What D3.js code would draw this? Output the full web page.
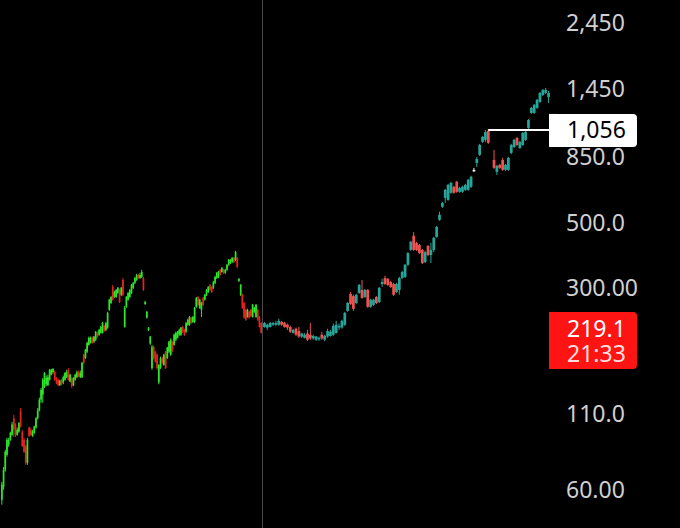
<!DOCTYPE html>
<html>
<head>
<meta charset="utf-8">
<script src="https://cdn.jsdelivr.net/npm/d3@7"></script>
<style>
  body { margin: 0; background: #000; }
  svg { display: block; }
</style>
</head>
<body>
<svg id="chart"></svg>
<script>
// ***********************DATA**********************
// candles are [open, high, low, close]

let earlyCandles = [
  [55.5,64,53.4,62.6],[61.6,72,60.1,70.5],[70.5,82.6,69.4,81.3],[79.4,90.8,78.2,89.4],[85.9,90.8,84.5,89.4],
  [89.4,95.3,88.7,94.5],[93,103,92.3,101],[106,109,91.5,96.8],[101,102,91.5,93],[93,98.5,92.3,96.8],
  [95.3,103,94.5,102],[112,115,98.5,99.3],[95.3,96.8,84.5,85.2],[89.4,90.8,80.6,81.3],[84.5,85.9,73.3,74.5],
  [74.5,90.8,73.3,89.4],[98.5,99.3,91.5,92.3],[96.8,98.5,92.3,93],[92.3,96.8,91.5,95.3],[94.5,100,93.8,99.3],
  [98.5,107,97.7,106],[106,115,105,113],[113,125,112,123],[123,135,120,133],[128,146,120,144],
  [136,153,135,152],[139,149,137,146],[138,150,137,147],[144,157,143,156],[150,157,149,156],
  [153,158,151,157],[153,155,143,144],[146,147,139,141],[144,145,137,138],[138,144,137,143],
  [144,145,138,139],[141,149,139,147],[144,153,143,152],[147,156,146,153],[156,158,143,144],
  [142,151,141,150],[146,147,135,137],[138,147,137,146],[144,151,143,150],[147,155,146,153],
  [153,155,147,149],[147,155,146,152],[147,166,146,165],[176,177,163,165],[171,184,170,183],
  [180,195,178,193],[190,203,189,201],[193,203,192,201],[201,203,192,193],[195,204,193,203],
  [198,212,196,211],[209,211,201,203],[206,216,204,214],[209,221,208,219],[209,228,208,226],
  [221,223,211,212],[214,228,212,226],[218,247,216,245],[251,274,249,272],[265,280,263,278],
  [301,306,270,272],[278,292,276,289],[278,296,276,294],[287,301,285,299],[294,296,265,267],
  [283,301,280,299],[318,323,280,283],[219,259,218,255],[257,280,255,278],[272,289,270,287],
  [278,296,276,294],[287,308,285,306],[299,313,296,311],[311,326,308,323],[318,334,316,331],
  [331,334,321,323],[323,337,321,331],[326,345,323,339],[323,326,292,294],[263,270,261,267],
  [236,249,234,247],[214,219,212,218],[192,204,190,203],[158,190,156,187],[187,189,169,171],
  [180,181,165,166],[176,177,156,158],[141,163,139,162],[158,173,157,171],[171,173,163,165],
  [162,177,161,176],[180,181,157,158],[171,187,170,186],[180,196,178,195],[176,200,174,198],
  [195,196,180,183],[190,208,189,206],[198,211,196,209],[201,212,200,211],[206,216,204,214],
  [206,219,204,218],[219,221,209,211],[214,216,204,206],[211,228,209,226],[223,234,221,232],
  [223,239,221,237],[236,237,225,226],[228,239,226,237],[228,257,226,255],[257,278,255,276],
  [278,280,259,261],[255,274,253,272],[251,267,237,265],[276,278,259,261],[272,285,270,283],
  [283,296,280,294],[289,303,287,301],[306,308,292,294],[301,303,287,289],[299,316,296,313],
  [311,329,308,326],[323,339,321,337],[326,342,323,339],[345,347,329,331],[339,353,337,350],
  [345,347,334,337],[337,347,334,345],[345,361,342,359],[359,376,356,373],[364,376,361,373],
  [367,382,364,379],[379,382,364,367],[373,401,370,397],[379,382,350,353],[316,323,313,321],
  [283,308,280,306],[283,285,253,255],[265,267,234,236],[251,253,230,232],[237,253,236,251],
  [247,249,234,236],[251,253,237,239],[237,263,236,261],[247,257,245,255],[237,263,236,261],
  [251,253,230,232],[237,239,218,219],[226,228,208,209]
]

let recentCandles = [
  [219,228,218,226],[218,225,214,223],[219,228,218,226],[223,228,221,226],[223,230,221,226],
  [223,234,221,230],[228,230,221,223],[226,228,218,219],[223,225,214,218],[219,221,209,211],
  [209,216,208,214],[216,218,204,206],[212,219,201,203],[203,209,201,208],[201,209,200,206],
  [208,214,196,198],[206,226,198,200],[200,206,198,204],[198,204,196,203],[200,203,196,201],
  [206,211,198,200],[198,206,196,204],[203,216,201,212],[204,214,203,211],[206,225,204,221],
  [209,230,208,223],[218,225,214,221],[218,232,216,230],[223,247,221,245],[249,267,247,265],
  [285,289,261,263],[280,283,249,253],[265,285,263,283],[287,308,285,306],[294,318,274,276],
  [278,296,276,294],[294,296,255,257],[257,274,255,272],[261,274,259,272],[278,280,263,265],
  [267,301,265,299],[308,321,301,313],[323,329,306,308],[321,323,303,306],[313,316,299,301],
  [308,311,280,283],[289,311,287,308],[294,326,283,323],[323,342,321,339],[326,361,323,359],
  [359,397,356,394],[404,434,401,431],[452,466,401,404],[427,431,401,404],[420,424,391,394],
  [404,407,361,364],[367,401,364,397],[417,420,385,388],[388,427,364,404],[404,448,397,445],
  [448,489,445,485],[513,547,509,534],[569,592,564,587],[611,656,587,651],[601,683,597,677],
  [636,694,631,688],[667,672,631,636],[694,699,636,641],[641,667,636,661],[641,672,636,667],
  [651,683,646,677],[651,710,646,705],[667,728,661,722],[763,775,751,763],[806,846,781,832],
  [859,938,852,930],[953,999,945,991],[968,1048,953,1031],[1040,1056,938,945],null,
  [826,894,769,775],[751,794,733,788],[794,800,769,775],[826,839,757,763],[763,800,757,794],
  [763,846,757,839],[873,938,866,930],[915,976,908,968],[983,991,923,930],[908,960,901,953],
  [930,1031,923,1023],[968,1040,960,1031],[1065,1143,1056,1134],[1199,1258,1190,1248],[1199,1288,1190,1278],
  [1248,1340,1238,1330],[1309,1417,1298,1406],[1383,1451,1372,1440],[1406,1463,1394,1440],[1361,1428,1298,1406]
]

let tickValues = [2450, 1450, 850, 500, 300, 110, 60]
let tickLabels = ["2,450", "1,450", "850.0", "500.0", "300.00", "110.0", "60.00"]

let lineLevel = 1056
let lineLabel = "1,056"
let lineFromCandle = 78 // index in recentCandles where the drawn line starts

let lastPrice = 219.1
let lastPriceLabel = "219.1"
let countdownLabel = "21:33"

// ***********************SETUP**********************

let width = 680
let height = 528
let font = "'Noto Sans', 'Open Sans', sans-serif"

let chart = d3.select("#chart")
  .attr("width", width)
  .attr("height", height)

chart.append("rect")
  .attr("width", width)
  .attr("height", height)
  .attr("fill", "#000")

let y = d3.scaleLog()
  .domain([2450, 60])
  .range([23, 490])

let xEarly = d3.scaleBand()
  .domain(d3.range(earlyCandles.length))
  .range([1, 262])

let xRecent = d3.scaleBand()
  .domain(d3.range(recentCandles.length))
  .range([263, 550])

// session divider
chart.append("line")
  .attr("x1", 262.5)
  .attr("x2", 262.5)
  .attr("y1", 0)
  .attr("y2", height)
  .attr("stroke", "#4a4a4a")
  .attr("stroke-width", 1)

// ***********************CANDLES**********************

function drawCandles(data, x, upColor, downColor, bodyRatio) {
  let g = chart.append("g")
  let bw = x.bandwidth()
  let items = data.map(function(d, i) { return { d: d, i: i } })
    .filter(function(e) { return e.d !== null })

  function color(e) {
    let d = e.d
    if (d[0] === d[3]) return "#f2f2f2"
    return d[3] > d[0] ? upColor : downColor
  }

  g.selectAll(".wick")
    .data(items)
    .enter()
    .append("line")
    .attr("class", "wick")
    .attr("x1", function(e) { return x(e.i) + bw / 2 })
    .attr("x2", function(e) { return x(e.i) + bw / 2 })
    .attr("y1", function(e) { return y(e.d[1]) })
    .attr("y2", function(e) { return y(e.d[2]) })
    .attr("stroke", color)
    .attr("stroke-width", 1)

  g.selectAll(".body")
    .data(items)
    .enter()
    .append("rect")
    .attr("class", "body")
    .attr("x", function(e) { return x(e.i) + bw * (1 - bodyRatio) / 2 })
    .attr("width", bw * bodyRatio)
    .attr("y", function(e) { return y(Math.max(e.d[0], e.d[3])) })
    .attr("height", function(e) {
      return Math.max(1.5, Math.abs(y(e.d[0]) - y(e.d[3])))
    })
    .attr("fill", color)
}

drawCandles(earlyCandles, xEarly, "#2ee62a", "#e8241e", 1)
drawCandles(recentCandles, xRecent, "#26a69a", "#ef5350", 0.95)

// ***********************PRICE SCALE**********************

let axis = chart.append("g").attr("id", "y-axis")

axis.selectAll("text")
  .data(tickValues)
  .enter()
  .append("text")
  .attr("x", 566)
  .attr("y", function(d) { return y(d) })
  .attr("dy", "0.36em")
  .attr("fill", "#d0d0d0")
  .attr("font-family", font)
  .attr("font-size", 23)
  .text(function(d, i) { return tickLabels[i] })

// horizontal line drawing and its label
let lineY = y(lineLevel)
chart.append("line")
  .attr("x1", xRecent(lineFromCandle) + xRecent.bandwidth() / 2)
  .attr("x2", 550)
  .attr("y1", lineY + 1)
  .attr("y2", lineY + 1)
  .attr("stroke", "#fff")
  .attr("stroke-width", 2)

function tag(top, h, fill) {
  chart.append("rect")
    .attr("x", 549)
    .attr("y", top)
    .attr("width", 88)
    .attr("height", h)
    .attr("rx", 4)
    .attr("fill", fill)
  chart.append("rect")
    .attr("x", 549)
    .attr("y", top)
    .attr("width", 8)
    .attr("height", h)
    .attr("fill", fill)
}

tag(lineY - 15, 33, "#fff")
chart.append("text")
  .attr("x", 567)
  .attr("y", lineY + 1)
  .attr("dy", "0.36em")
  .attr("fill", "#000")
  .attr("font-family", font)
  .attr("font-size", 23)
  .text(lineLabel)

// last price with countdown
let lastY = y(lastPrice)
tag(lastY - 15, 57, "#ff1414")
chart.append("text")
  .attr("x", 567)
  .attr("y", lastY + 2)
  .attr("dy", "0.36em")
  .attr("fill", "#fff")
  .attr("font-family", font)
  .attr("font-size", 23)
  .text(lastPriceLabel)
chart.append("text")
  .attr("x", 567)
  .attr("y", lastY + 27)
  .attr("dy", "0.36em")
  .attr("fill", "#ffdede")
  .attr("font-family", font)
  .attr("font-size", 23)
  .text(countdownLabel)
</script>
</body>
</html>
